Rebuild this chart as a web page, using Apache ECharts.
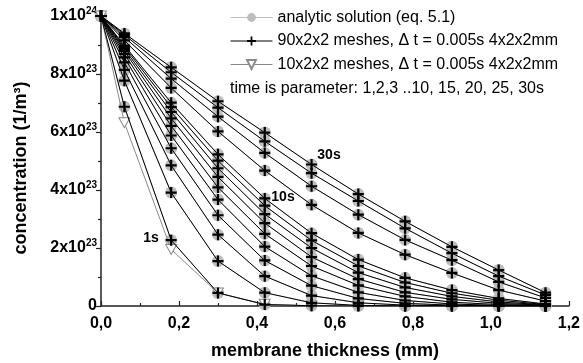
<!DOCTYPE html>
<html>
<head>
<meta charset="utf-8">
<script src="https://cdn.jsdelivr.net/npm/echarts@6/dist/echarts.min.js"></script>
<style>
  html, body { margin: 0; padding: 0; background: #fff; }
  #chart { width: 583px; height: 363px; }
</style>
</head>
<body>
<div id="chart"></div>
<script>
// Positions across the membrane (mm)
const thickness = [0, 0.06, 0.18, 0.30, 0.42, 0.54, 0.66, 0.78, 0.90, 1.02, 1.14];

// Concentration profiles in units of 1e23 1/m^3, one per elapsed time
const c1s  = [10, 6.87, 2.27, 0.45, 0.05, 0.01, 0, 0, 0, 0, 0];
const c2s  = [10, 7.77, 3.91, 1.55, 0.46, 0.11, 0.02, 0, 0, 0, 0];
const c3s  = [10, 8.14, 4.85, 2.46, 1.03, 0.36, 0.11, 0.03, 0.01, 0, 0];
const c4s  = [10, 8.40, 5.44, 3.13, 1.57, 0.70, 0.26, 0.09, 0.03, 0.01, 0];
const c5s  = [10, 8.57, 5.88, 3.67, 2.05, 1.04, 0.47, 0.19, 0.07, 0.02, 0.01];
const c6s  = [10, 8.69, 6.21, 4.09, 2.49, 1.38, 0.71, 0.33, 0.13, 0.05, 0.02];
const c7s  = [10, 8.79, 6.47, 4.45, 2.86, 1.69, 0.93, 0.47, 0.23, 0.09, 0.03];
const c8s  = [10, 8.86, 6.69, 4.75, 3.17, 2.00, 1.15, 0.64, 0.33, 0.14, 0.04];
const c9s  = [10, 8.93, 6.86, 5.01, 3.46, 2.26, 1.38, 0.81, 0.44, 0.20, 0.05];
const c10s = [10, 8.98, 7.01, 5.23, 3.71, 2.51, 1.60, 0.97, 0.55, 0.26, 0.07];
const c15s = [10, 9.16, 7.52, 6.02, 4.67, 3.49, 2.52, 1.77, 1.14, 0.55, 0.17];
const c20s = [10, 9.27, 7.84, 6.53, 5.28, 4.13, 3.15, 2.28, 1.58, 0.83, 0.28];
const c25s = [10, 9.35, 8.06, 6.84, 5.68, 4.58, 3.62, 2.68, 1.82, 1.03, 0.38];
const c30s = [10, 9.40, 8.23, 7.06, 5.98, 4.88, 3.86, 2.92, 2.04, 1.24, 0.46];

// Coarse mesh (10x2x2) result at 1 s
const coarse1s = [10, 6.32, 1.95, 0.45, 0.06, 0, 0, 0, 0, 0, 0];

const profiles = [c1s, c2s, c3s, c4s, c5s, c6s, c7s, c8s, c9s, c10s, c15s, c20s, c25s, c30s];

const yTicks = [0, 2, 4, 6, 8, 10];
const xTicks = [0, 0.2, 0.4, 0.6, 0.8, 1.0, 1.2];

const nameAnalytic = 'analytic solution (eq. 5.1)';
const nameFine = '90x2x2 meshes, \u0394 t = 0.005s 4x2x2mm';
const nameCoarse = '10x2x2 meshes, \u0394 t = 0.005s 4x2x2mm';

const FONT = 'Liberation Sans, Arial, Helvetica, sans-serif';
const PLUS = 'path://M4,0H6V4H10V6H6V10H4V6H0V4H4Z';
const TRI_DOWN = 'path://M0,0L10,0L5,9Z';

const pairs = vals => thickness.map((x, i) => [x, vals[i]]);

const series = [];
profiles.forEach(p => {
  series.push({
    name: nameAnalytic, type: 'line', data: pairs(p), z: 1,
    symbol: 'circle', symbolSize: 12,
    itemStyle: { color: '#bdbdbd' },
    lineStyle: { color: '#bdbdbd', width: 1 }
  });
});
series.push({
  name: nameCoarse, type: 'line', data: pairs(coarse1s), z: 2,
  symbol: TRI_DOWN, symbolSize: [11, 10],
  itemStyle: { color: '#fff', borderColor: '#8a8a8a', borderWidth: 1 },
  lineStyle: { color: '#8a8a8a', width: 1 }
});
profiles.forEach(p => {
  series.push({
    name: nameFine, type: 'line', data: pairs(p), z: 3,
    symbol: PLUS, symbolSize: 11,
    itemStyle: { color: '#000' },
    lineStyle: { color: '#000', width: 1 }
  });
});

const chart = echarts.init(document.getElementById('chart'), null, { renderer: 'canvas' });
chart.setOption({
  animation: false,
  backgroundColor: '#fff',
  grid: { left: 101, right: 11, top: 16, bottom: 57, containLabel: false },
  legend: {
    data: [nameAnalytic, nameFine, nameCoarse],
    orient: 'vertical', left: 230, top: 9, padding: 0,
    itemWidth: 42, itemHeight: 11, itemGap: 6.5,
    selectedMode: false,
    lineStyle: { width: 1 },
    textStyle: { fontFamily: FONT, fontSize: 16, color: '#000', lineHeight: 17 }
  },
  xAxis: {
    type: 'value', min: 0, max: 1.2, interval: 0.2,
    axisLine: { lineStyle: { color: '#222', width: 1.5 } },
    axisTick: { inside: true, length: 5, lineStyle: { color: '#222', width: 1.2 } },
    minorTick: { show: true, splitNumber: 2, length: 3, lineStyle: { color: '#222', width: 1.2 } },
    splitLine: { show: false },
    axisLabel: {
      margin: 10, color: '#000', fontFamily: FONT, fontWeight: 'bold', fontSize: 16,
      formatter: v => (xTicks.some(t => Math.abs(t - v) < 1e-9) ? v.toFixed(1).replace('.', ',') : '')
    }
  },
  yAxis: {
    type: 'value', min: 0, max: 10, interval: 2,
    axisLine: { lineStyle: { color: '#222', width: 1.5 } },
    axisTick: { inside: false, length: 5, lineStyle: { color: '#222', width: 1.2 } },
    minorTick: { show: true, splitNumber: 2, length: 3, lineStyle: { color: '#222', width: 1.2 } },
    splitLine: { show: false },
    axisLabel: {
      margin: 4, color: '#000',
      formatter: v => {
        if (!yTicks.includes(v)) return '';
        if (v === 0) return '{b|0}';
        if (v === 10) return '{b|1x10}{s|24}';
        return '{b|' + v + 'x10}{s|23}';
      },
      rich: {
        b: { fontFamily: FONT, fontWeight: 'bold', fontSize: 16, color: '#000' },
        s: { fontFamily: FONT, fontWeight: 'bold', fontSize: 10, color: '#000', verticalAlign: 'top', padding: [0, 0, 10, 0] }
      }
    }
  },
  graphic: [
    {
      type: 'text', x: 21, y: 168, rotation: Math.PI / 2,
      style: { text: 'concentration (1/m\u00b3)', font: 'bold 18px ' + FONT, fill: '#000',
               textAlign: 'center', textVerticalAlign: 'middle', verticalAlign: 'middle' }
    },
    {
      type: 'text', x: 325, y: 351,
      style: { text: 'membrane thickness (mm)', font: 'bold 18px ' + FONT, fill: '#000',
               textAlign: 'center', textVerticalAlign: 'middle', verticalAlign: 'middle' }
    },
    {
      type: 'text', x: 230, y: 89,
      style: { text: 'time is parameter: 1,2,3 ..10, 15, 20, 25, 30s', font: '16px ' + FONT, fill: '#000',
               textAlign: 'left', textVerticalAlign: 'middle', verticalAlign: 'middle' }
    },
    {
      type: 'text', x: 151, y: 238,
      style: { text: '1s', font: 'bold 14px ' + FONT, fill: '#000',
               textAlign: 'center', textVerticalAlign: 'middle', verticalAlign: 'middle' }
    },
    {
      type: 'text', x: 283, y: 197,
      style: { text: '10s', font: 'bold 14px ' + FONT, fill: '#000',
               textAlign: 'center', textVerticalAlign: 'middle', verticalAlign: 'middle' }
    },
    {
      type: 'text', x: 329, y: 155,
      style: { text: '30s', font: 'bold 14px ' + FONT, fill: '#000',
               textAlign: 'center', textVerticalAlign: 'middle', verticalAlign: 'middle' }
    }
  ],
  series: series
});
</script>
</body>
</html>
